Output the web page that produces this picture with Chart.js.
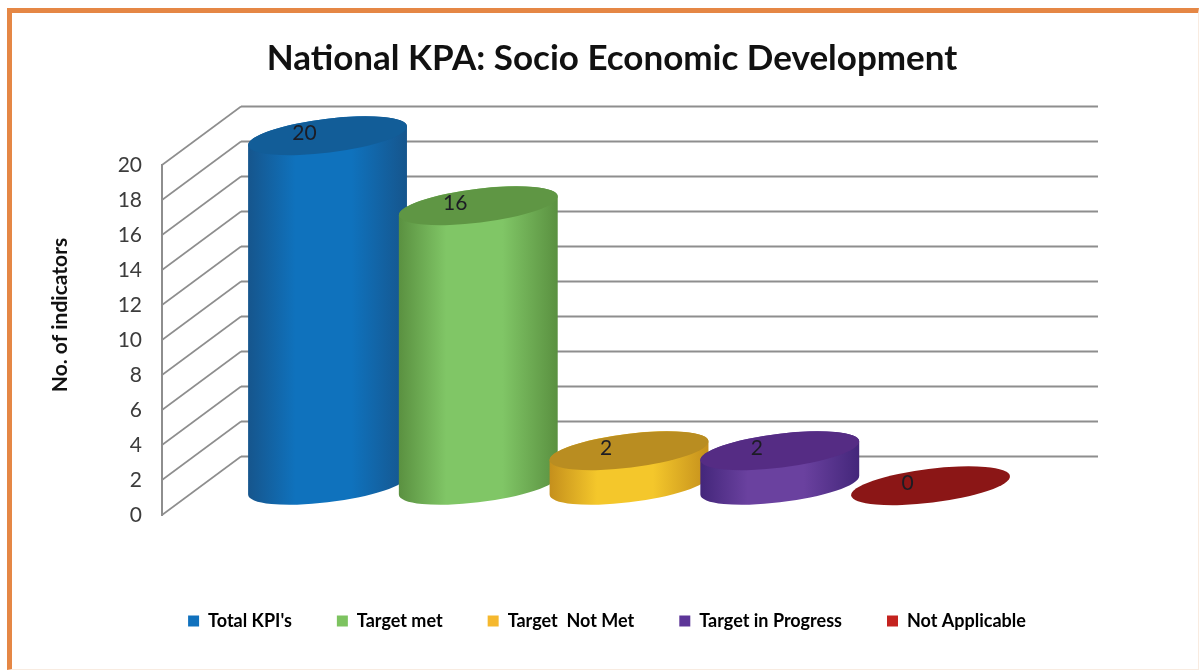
<!DOCTYPE html>
<html>
<head>
<meta charset="utf-8">
<title>National KPA: Socio Economic Development</title>
<script src="https://cdn.jsdelivr.net/npm/chart.js@4"></script>
<style>
    html, body { margin: 0; background: #fff; }
    #wrap { position: relative; width: 1199px; height: 671px; overflow: hidden; }
    #frame {
        position: absolute; left: 7px; top: 8px; width: 1192px; height: 662px;
        border-top: 5px solid #e58745; border-left: 5px solid #e58745;
        border-right: 1px solid #f8ebe0; border-bottom: 1px solid #f8ebe0;
        box-sizing: border-box;
    }
    canvas { position: absolute; left: 0; top: 0; }
</style>
</head>
<body>
<div id="wrap">
    <div id="frame"></div>
    <canvas id="chart" width="1199" height="671"></canvas>
</div>
<script>
const categories = ["Total KPI's", "Target met", "Target  Not Met", "Target in Progress", "Not Applicable"];
const indicators = [20, 16, 2, 2, 0];

// legend swatch, lid, and the dark edge / bright middle of each cylinder wall
const swatchColors = ['#1071bd', '#7dc360', '#f5b82e', '#5d3698', '#c4231f'];
const lidColors = ['#125d98', '#5f9644', '#b98d21', '#552c84', '#8b1616'];
const edgeColors = ['#16558c', '#5a9040', '#c48f1c', '#43267a', '#7a1212'];
const midColors = ['#0f72bd', '#80c666', '#f4c72b', '#6a419f', '#a01a1a'];

const WALL_DX = 79, WALL_DY = -58.5, WALL_RIGHT = 1098;
const LID_MINOR = 17, LID_TILT = -7 * Math.PI / 180;

// Bars with a round section: each one sits halfway between the front plane and the back wall
class CylinderController extends Chart.BarController {
    draw() {
        const ctx = this.chart.ctx;
        const elements = this.getMeta().data;
        elements.forEach((bar, i) => {
            const cx = bar.x + WALL_DX / 2;
            const top = bar.y + WALL_DY / 2;
            const base = bar.base + WALL_DY / 2;
            const a = bar.width / 2;
            const t0 = Math.atan(LID_MINOR / a * Math.tan(-LID_TILT));

            ctx.save();
            if (base - top > 0.5) {
                const wall = ctx.createLinearGradient(cx - a, 0, cx + a, 0);
                wall.addColorStop(0, edgeColors[i]);
                wall.addColorStop(0.3, midColors[i]);
                wall.addColorStop(0.65, midColors[i]);
                wall.addColorStop(1, edgeColors[i]);
                ctx.fillStyle = wall;
                ctx.beginPath();
                ctx.ellipse(cx, base, a, LID_MINOR, LID_TILT, t0, t0 + Math.PI);
                ctx.ellipse(cx, top, a, LID_MINOR, LID_TILT, t0 + Math.PI, t0 + 2 * Math.PI);
                ctx.closePath();
                ctx.fill();
            }
            ctx.fillStyle = lidColors[i];
            ctx.beginPath();
            ctx.ellipse(cx, top, a, LID_MINOR, LID_TILT, 0, 2 * Math.PI);
            ctx.fill();

            ctx.fillStyle = '#1c1c24';
            ctx.font = '21px Lato';
            ctx.textAlign = 'center';
            ctx.textBaseline = 'middle';
            ctx.fillText(String(indicators[i]), cx - 23, top - 3);
            ctx.restore();
        });
    }
}
CylinderController.id = 'cylinder';
CylinderController.defaults = Chart.BarController.defaults;
CylinderController.overrides = Chart.BarController.overrides;
Chart.register(CylinderController);

// Side wall and back wall rules, one per y tick
const wallLines = {
    id: 'wallLines',
    beforeDatasetsDraw(chart) {
        const { ctx, scales: { y } } = chart;
        const x0 = chart.chartArea.left;
        ctx.save();
        ctx.strokeStyle = '#8e8e8e';
        y.ticks.forEach(tick => {
            const py = y.getPixelForValue(tick.value);
            ctx.lineWidth = 1.6;
            ctx.beginPath();
            ctx.moveTo(x0, py);
            ctx.lineTo(x0 + WALL_DX, py + WALL_DY);
            ctx.stroke();
            ctx.lineWidth = 2.2;
            ctx.beginPath();
            ctx.moveTo(x0 + WALL_DX, py + WALL_DY);
            ctx.lineTo(WALL_RIGHT, py + WALL_DY);
            ctx.stroke();
        });
        ctx.restore();
    },
    afterDraw(chart) {
        // axis caption sits above the middle of the scale, so it is placed by hand
        const ctx = chart.ctx;
        ctx.save();
        ctx.translate(60, 315);
        ctx.rotate(-Math.PI / 2);
        ctx.fillStyle = '#111';
        ctx.font = 'bold 21px Lato';
        ctx.textAlign = 'center';
        ctx.textBaseline = 'middle';
        ctx.fillText('No. of indicators', 0, 0);
        ctx.restore();
    },
    afterLayout(chart) {
        // the legend is centred a little left of the title
        chart.legend.left -= 5;
        chart.legend.right -= 5;
    }
};

new Chart(document.getElementById('chart'), {
    type: 'cylinder',
    plugins: [wallLines],
    data: {
        datasets: [{
            data: indicators.map((v, i) => ({ x: i, y: v })),
            backgroundColor: swatchColors,
            barThickness: 160,
            clip: false
        }]
    },
    options: {
        responsive: false,
        animation: false,
        layout: { padding: { left: 50, right: 25, top: 0, bottom: 31 } },
        scales: {
            x: {
                type: 'linear',
                offset: false,
                min: -0.836,
                max: 5.877,
                ticks: { display: false },
                grid: { display: false },
                border: { display: false },
                afterFit(scale) { scale.height = 52; }
            },
            y: {
                min: 0,
                max: 20,
                ticks: {
                    stepSize: 2,
                    padding: 20,
                    color: '#3c3c3c',
                    font: { family: 'Lato', size: 21 }
                },
                grid: { drawOnChartArea: false, drawTicks: false },
                border: { color: '#8e8e8e', width: 2 },
                afterFit(scale) { scale.width = 112; }
            }
        },
        plugins: {
            title: {
                display: true,
                text: 'National KPA: Socio Economic Development',
                color: '#111',
                padding: { top: 38, bottom: 85 },
                font: { family: 'Lato', size: 35, weight: 'bold' }
            },
            legend: {
                position: 'bottom',
                onClick: null,
                labels: {
                    boxWidth: 11,
                    boxHeight: 11,
                    padding: 45,
                    color: '#222',
                    font: { family: 'Lato', size: 18, weight: 'bold' },
                    generateLabels: () => categories.map((name, i) => ({
                        text: name,
                        fillStyle: swatchColors[i],
                        strokeStyle: swatchColors[i],
                        lineWidth: 0,
                        index: i
                    }))
                }
            },
            tooltip: { enabled: false }
        }
    }
});
</script>
</body>
</html>
